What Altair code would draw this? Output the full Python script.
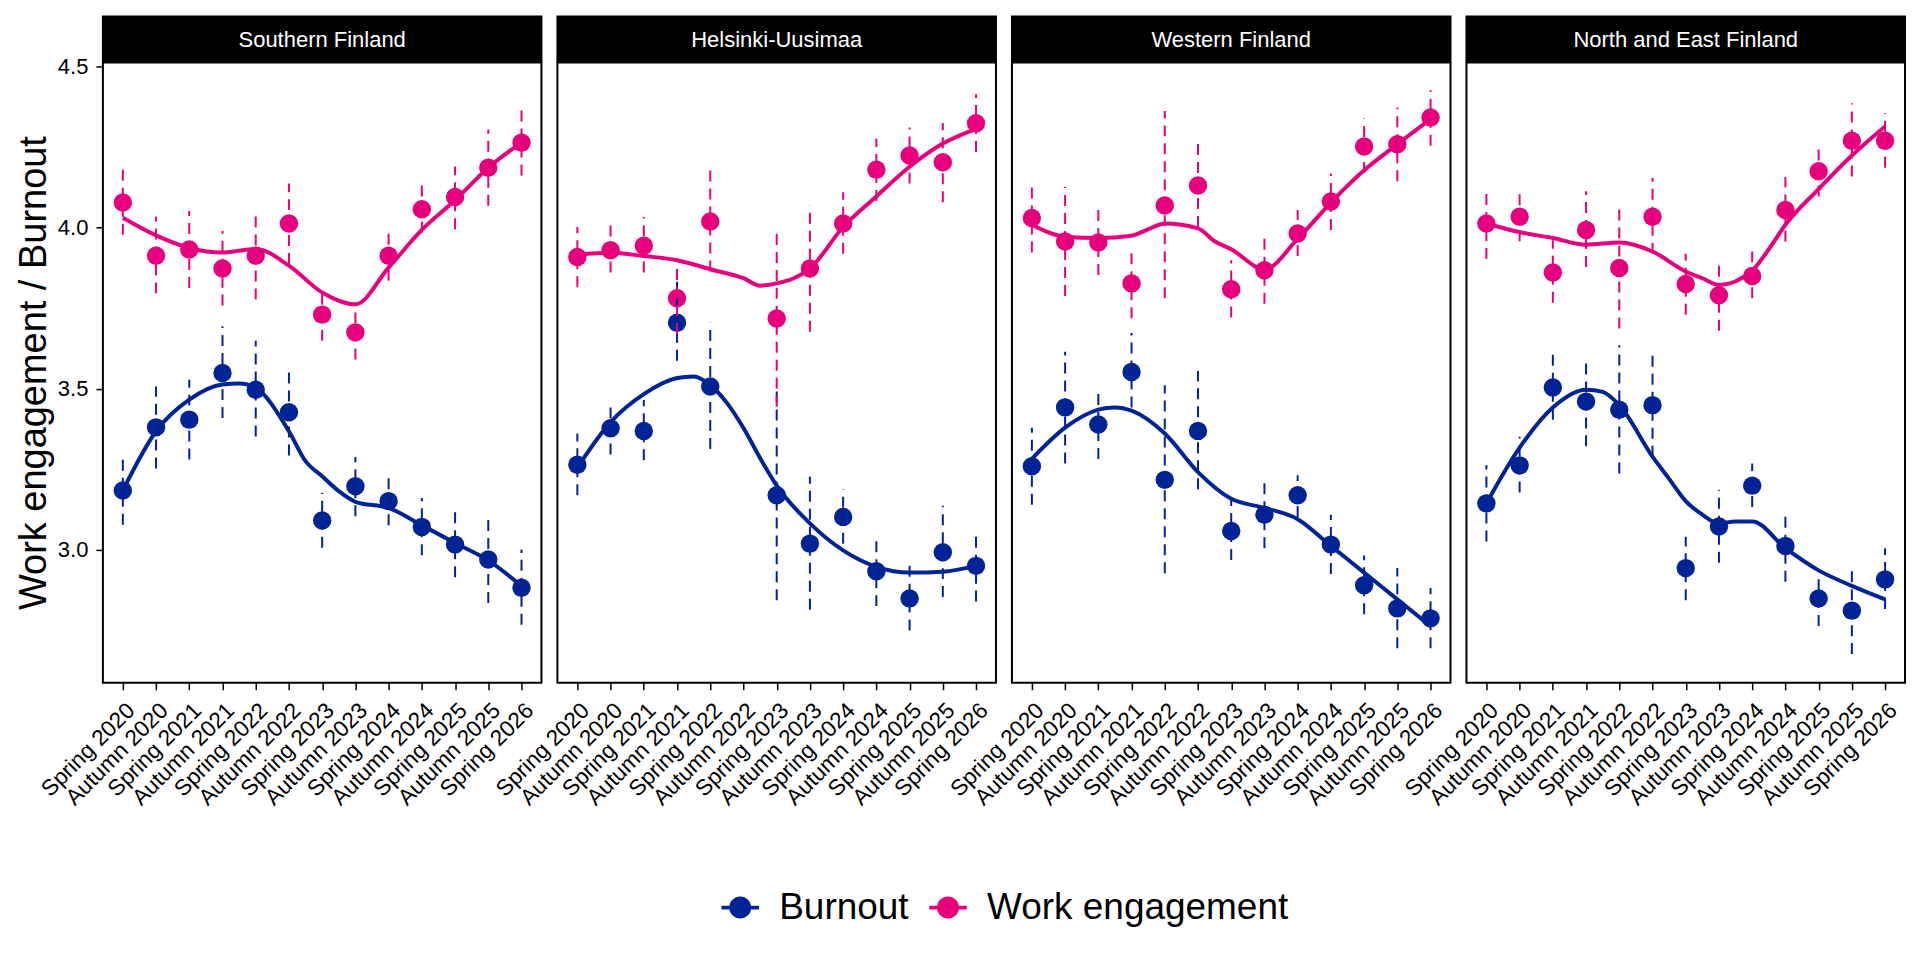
import altair as alt
import pandas as pd

periods = ["Spring 2020", "Autumn 2020", "Spring 2021", "Autumn 2021", "Spring 2022",
           "Autumn 2022", "Spring 2023", "Autumn 2023", "Spring 2024", "Autumn 2024",
           "Spring 2025", "Autumn 2025", "Spring 2026"]
regions = ["Southern Finland", "Helsinki-Uusimaa", "Western Finland", "North and East Finland"]
series_names = ["Burnout", "Work engagement"]
series_colors = ["#002395", "#E6007E"]

# ---- Southern Finland ----
sf_bur_mean = [3.184, 3.380, 3.404, 3.549, 3.497, 3.427, 3.091, 3.197, 3.151, 3.071, 3.016, 2.970, 2.882]
sf_bur_lo = [3.078, 3.252, 3.280, 3.409, 3.352, 3.293, 3.006, 3.104, 3.076, 2.983, 2.915, 2.835, 2.767]
sf_bur_hi = [3.293, 3.507, 3.528, 3.694, 3.649, 3.562, 3.177, 3.288, 3.226, 3.161, 3.125, 3.111, 3.001]
sf_eng_mean = [4.078, 3.913, 3.932, 3.873, 3.913, 4.013, 3.730, 3.675, 3.913, 4.057, 4.095, 4.186, 4.264]
sf_eng_lo = [3.978, 3.796, 3.813, 3.758, 3.777, 3.887, 3.649, 3.591, 3.835, 3.985, 3.995, 4.068, 4.162]
sf_eng_hi = [4.181, 4.034, 4.052, 3.990, 4.044, 4.137, 3.815, 3.738, 3.990, 4.139, 4.190, 4.305, 4.369]
sf_bur_sx = [0, 1, 2, 3, 3.5, 4, 5, 5.5, 6, 6.5, 7, 8, 9, 10, 11, 12]
sf_bur_sy = [3.184, 3.368, 3.466, 3.513, 3.516, 3.502, 3.368, 3.275, 3.228, 3.182, 3.149, 3.130, 3.076, 3.021, 2.967, 2.887]
sf_eng_sx = [0, 1, 2, 3, 4, 5, 6, 7, 8, 9, 10, 11, 12]
sf_eng_sy = [4.031, 3.976, 3.937, 3.923, 3.934, 3.882, 3.799, 3.762, 3.876, 3.993, 4.085, 4.186, 4.264]

# ---- Helsinki-Uusimaa ----
hu_bur_mean = [3.264, 3.377, 3.369, 3.705, 3.507, None, 3.169, 3.019, 3.102, 2.933, 2.849, 2.992, 2.950]
hu_bur_lo = [3.169, 3.296, 3.278, 3.587, 3.313, None, 2.843, 2.814, 3.019, 2.825, 2.749, 2.853, 2.839]
hu_bur_hi = [3.361, 3.455, 3.465, 3.832, 3.705, None, 3.494, 3.227, 3.188, 3.040, 2.950, 3.137, 3.058]
hu_eng_mean = [3.909, 3.930, 3.944, 3.781, 4.019, None, 3.718, 3.873, 4.013, 4.180, 4.224, 4.203, 4.324]
hu_eng_lo = [3.815, 3.861, 3.861, 3.670, 3.864, None, 3.444, 3.677, 3.919, 4.083, 4.137, 4.079, 4.235]
hu_eng_hi = [4.002, 4.009, 4.033, 3.900, 4.180, None, 3.998, 4.069, 4.110, 4.276, 4.311, 4.325, 4.414]
hu_bur_sx = [0, 1, 2, 3, 3.5, 4, 4.5, 5, 5.5, 6, 7, 8, 9, 10, 11, 12]
hu_bur_sy = [3.255, 3.396, 3.483, 3.533, 3.538, 3.511, 3.456, 3.378, 3.285, 3.199, 3.082, 2.998, 2.947, 2.929, 2.932, 2.950]
hu_eng_sx = [0, 1, 2, 3, 4, 5, 5.5, 6, 7, 8, 9, 10, 11, 12]
hu_eng_sy = [3.917, 3.922, 3.912, 3.899, 3.871, 3.843, 3.820, 3.827, 3.873, 4.002, 4.097, 4.189, 4.261, 4.307]

# ---- Western Finland ----
wf_bur_mean = [3.259, 3.442, 3.389, 3.552, 3.217, 3.369, 3.058, 3.109, 3.169, 3.016, 2.890, 2.818, 2.787]
wf_bur_lo = [3.140, 3.268, 3.282, 3.442, 2.927, 3.188, 2.968, 3.005, 3.102, 2.925, 2.800, 2.694, 2.694]
wf_bur_hi = [3.379, 3.615, 3.497, 3.673, 3.511, 3.555, 3.158, 3.216, 3.231, 3.109, 2.982, 2.943, 2.881]
wf_eng_mean = [4.030, 3.957, 3.954, 3.827, 4.069, 4.131, 3.809, 3.868, 3.982, 4.081, 4.252, 4.259, 4.342]
wf_eng_lo = [3.923, 3.788, 3.853, 3.719, 3.781, 4.002, 3.721, 3.764, 3.912, 3.993, 4.170, 4.144, 4.254]
wf_eng_hi = [4.141, 4.127, 4.058, 3.940, 4.362, 4.270, 3.899, 3.972, 4.055, 4.168, 4.339, 4.373, 4.427]
wf_bur_sx = [0, 1, 2, 2.5, 3, 4, 5, 6, 7, 8, 9, 10, 11, 12]
wf_bur_sy = [3.282, 3.379, 3.435, 3.442, 3.432, 3.361, 3.241, 3.158, 3.130, 3.095, 3.012, 2.929, 2.846, 2.763]
wf_eng_sx = [0, 1, 2, 3, 3.5, 4, 5, 5.5, 6, 7, 8, 9, 10, 11, 12]
wf_eng_sy = [4.009, 3.972, 3.968, 3.975, 3.995, 4.013, 3.998, 3.958, 3.933, 3.871, 3.965, 4.078, 4.178, 4.259, 4.337]

# ---- North and East Finland ----
ne_bur_mean = [3.144, 3.262, 3.504, 3.460, 3.435, 3.449, 2.943, 3.072, 3.199, 3.012, 2.849, 2.811, 2.908]
ne_bur_lo = [3.026, 3.178, 3.404, 3.321, 3.237, 3.289, 2.843, 2.960, 3.133, 2.901, 2.763, 2.676, 2.816]
ne_bur_hi = [3.262, 3.351, 3.612, 3.598, 3.635, 3.608, 3.040, 3.186, 3.268, 3.123, 2.932, 2.950, 3.005]
ne_eng_mean = [4.013, 4.034, 3.861, 3.993, 3.875, 4.034, 3.825, 3.790, 3.850, 4.055, 4.175, 4.270, 4.270]
ne_eng_lo = [3.903, 3.958, 3.767, 3.878, 3.687, 3.919, 3.730, 3.680, 3.781, 3.957, 4.097, 4.159, 4.186]
ne_eng_hi = [4.123, 4.109, 3.961, 4.113, 4.067, 4.155, 3.919, 3.901, 3.926, 4.157, 4.252, 4.386, 4.356]
ne_bur_sx = [0, 1, 2, 3, 3.5, 4, 5, 5.5, 6, 6.5, 7, 7.5, 8, 9, 10, 11, 12]
ne_bur_sy = [3.144, 3.317, 3.442, 3.497, 3.490, 3.449, 3.289, 3.220, 3.151, 3.109, 3.082, 3.088, 3.088, 3.005, 2.936, 2.888, 2.846]
ne_eng_sx = [0, 1, 2, 3, 4, 5, 6, 6.5, 7, 8, 8.5, 9, 10, 11, 12]
ne_eng_sy = [4.013, 3.986, 3.968, 3.947, 3.954, 3.926, 3.864, 3.843, 3.822, 3.867, 3.933, 4.009, 4.120, 4.224, 4.314]

region_data = {
    "Southern Finland": (sf_bur_mean, sf_bur_lo, sf_bur_hi, sf_eng_mean, sf_eng_lo, sf_eng_hi,
                         sf_bur_sx, sf_bur_sy, sf_eng_sx, sf_eng_sy),
    "Helsinki-Uusimaa": (hu_bur_mean, hu_bur_lo, hu_bur_hi, hu_eng_mean, hu_eng_lo, hu_eng_hi,
                         hu_bur_sx, hu_bur_sy, hu_eng_sx, hu_eng_sy),
    "Western Finland": (wf_bur_mean, wf_bur_lo, wf_bur_hi, wf_eng_mean, wf_eng_lo, wf_eng_hi,
                        wf_bur_sx, wf_bur_sy, wf_eng_sx, wf_eng_sy),
    "North and East Finland": (ne_bur_mean, ne_bur_lo, ne_bur_hi, ne_eng_mean, ne_eng_lo, ne_eng_hi,
                               ne_bur_sx, ne_bur_sy, ne_eng_sx, ne_eng_sy),
}

pt_rows, sm_rows = [], []
for reg, (bm, bl, bh, em, el, eh, bsx, bsy, esx, esy) in region_data.items():
    for s, m, l, h in (("Burnout", bm, bl, bh), ("Work engagement", em, el, eh)):
        for i in range(len(periods)):
            if m[i] is None:
                continue
            pt_rows.append({"region": reg, "series": s, "idx": i, "mean": m[i], "lo": l[i], "hi": h[i]})
    for s, sx, sy in (("Burnout", bsx, bsy), ("Work engagement", esx, esy)):
        for xv, yv in zip(sx, sy):
            sm_rows.append({"region": reg, "series": s, "sx": xv, "sy": yv})
points = pd.DataFrame(pt_rows)
smooth = pd.DataFrame(sm_rows)

W, H, SH = 439, 621, 47
FONT = "Liberation Sans"
ydom = [2.587, 4.513]
xdom = [-0.6, 12.6]
label_expr = "[" + ",".join("'" + p + "'" for p in periods) + "][datum.value]"

legend_path = ("M-1,-0.1H1V0.1H-1Z"
               "M0.587,0A0.587,0.587,0,1,1,-0.587,0A0.587,0.587,0,1,1,0.587,0Z")


def color_enc(with_legend):
    if with_legend:
        lg = alt.Legend(orient="none", legendX=619, legendY=827, direction="horizontal",
                        title=None, labelFontSize=37, labelFont=FONT, labelColor="black",
                        labelLimit=0, symbolType=legend_path, symbolSize=1406,
                        symbolStrokeWidth=0, labelOffset=20, columnPadding=20, padding=0)
    else:
        lg = None
    return alt.Color("series:N", scale=alt.Scale(domain=series_names, range=series_colors), legend=lg)


def make_panel(k, reg):
    pts = points[points["region"] == reg]
    sm = smooth[smooth["region"] == reg]
    xax = alt.Axis(values=list(range(len(periods))), labelExpr=label_expr, labelAngle=-45,
                   labelAlign="right", labelBaseline="top", tickSize=7, tickWidth=1.5,
                   tickColor="black", labelPadding=9, labelFontSize=22.5, labelFont=FONT,
                   labelColor="black", grid=False, domain=False, title=None,
                   labelOverlap=False, labelBound=False, labelFlush=False)
    if k == 0:
        yax = alt.Axis(values=[3.0, 3.5, 4.0, 4.5], format=".1f", tickSize=7, tickWidth=1.5,
                       tickColor="black", labelPadding=8, labelFontSize=22, labelFont=FONT,
                       labelColor="black", grid=False, domain=False,
                       title="Work engagement / Burnout", titleFontSize=38, titleFont=FONT,
                       titleFontWeight="normal", titleColor="black", titlePadding=4)
    else:
        yax = None
    xs = alt.Scale(domain=xdom, nice=False, zero=False)
    ys = alt.Scale(domain=ydom, nice=False, zero=False)

    pt_layer = alt.Chart(pts).mark_point(filled=True, shape="circle", size=340, opacity=1).encode(
        x=alt.X("idx:Q", scale=xs, axis=xax),
        y=alt.Y("mean:Q", scale=ys, axis=yax),
        color=color_enc(k == 0),
    )
    eb_layer = alt.Chart(pts).mark_rule(strokeDash=[11, 7], strokeWidth=2).encode(
        x=alt.X("idx:Q", scale=xs, axis=xax),
        y=alt.Y("lo:Q", scale=ys, axis=yax),
        y2="hi:Q",
        color=color_enc(False),
    )
    ln_layer = alt.Chart(sm).mark_line(strokeWidth=4, interpolate="monotone").encode(
        x=alt.X("sx:Q", scale=xs, axis=xax),
        y=alt.Y("sy:Q", scale=ys, axis=yax),
        color=color_enc(False),
        detail="series:N",
    )
    sdf = pd.DataFrame({"region": [reg]})
    strip_bg = alt.Chart(sdf).mark_rect(color="black").encode(
        x=alt.value(-1), x2=alt.value(W + 1), y=alt.value(-SH), y2=alt.value(0))
    strip_tx = alt.Chart(sdf).mark_text(color="white", fontSize=22, font=FONT,
                                        baseline="middle", align="center").encode(
        x=alt.value(W / 2), y=alt.value(-SH / 2 + 1), text="region:N")
    return alt.layer(pt_layer, eb_layer, ln_layer, strip_bg, strip_tx).properties(width=W, height=H)


panels = [make_panel(k, r) for k, r in enumerate(regions)]
chart = alt.hconcat(*panels, spacing=16, bounds="flush").properties(
    padding={"left": 6, "top": 6, "right": 5, "bottom": 5}
).configure(font=FONT).configure_view(
    stroke="black", strokeWidth=2
).configure_axisX(labelOverlap=False)

chart.save("out.html", embed_options={"renderer": "svg", "actions": False})
